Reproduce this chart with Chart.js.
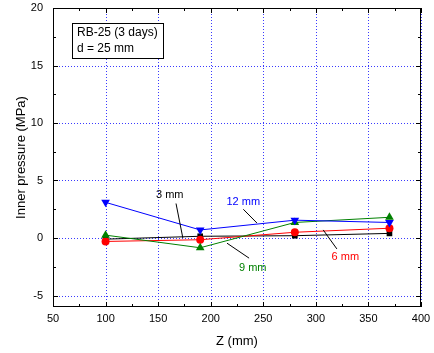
<!DOCTYPE html>
<html>
<head>
<meta charset="utf-8">
<script src="https://cdn.jsdelivr.net/npm/chart.js@4"></script>
<style>
  html, body { margin: 0; padding: 0; background: #fff; }
  #wrap { position: relative; width: 434px; height: 353px; }
</style>
</head>
<body>
<div id="wrap"><canvas id="chart" width="434" height="353"></canvas></div>
<script>
// --- Data ---
const zPositions = [100, 190, 280, 370];
const p3mm = [-0.1, 0.15, 0.2, 0.4];
const p6mm = [-0.3, -0.15, 0.5, 0.85];
const p9mm = [0.25, -0.85, 1.35, 1.8];
const p12mm = [3.1, 0.7, 1.55, 1.35];

const xTicks = [50, 100, 150, 200, 250, 300, 350, 400];
const yTicks = [-5, 0, 5, 10, 15, 20];

const infoLines = ['RB-25 (3 days)', 'd = 25 mm'];

// label text position, leader line start and end (data units)
const labels = [
  { text: '3 mm', color: '#000000', at: [161, 3.7], line: [[167, 3.0], [173.5, 0.0]] },
  { text: '12 mm', color: '#0000ff', at: [231, 3.1], line: [[231, 2.5], [244, 1.3]] },
  { text: '9 mm', color: '#008000', at: [240, -2.6], line: [[236.5, -1.75], [215.5, -0.45]] },
  { text: '6 mm', color: '#ff0000', at: [328, -1.65], line: [[320, -0.95], [307, 0.7]] }
];

const FONT = 'Arial, "Liberation Sans", sans-serif';

function toPoints(ys) {
  return zPositions.map((z, i) => ({ x: z, y: ys[i] }));
}

// dotted blue grid under the data
const dottedGrid = {
  id: 'dottedGrid',
  beforeDatasetsDraw(chart) {
    const { ctx, chartArea: a, scales: { x, y } } = chart;
    ctx.save();
    ctx.strokeStyle = '#3a3aff';
    ctx.lineWidth = 1;
    ctx.setLineDash([1, 2]);
    ctx.beginPath();
    xTicks.forEach(v => {
      const px = Math.round(x.getPixelForValue(v)) + 0.5;
      ctx.moveTo(px, a.top); ctx.lineTo(px, a.bottom);
    });
    yTicks.forEach(v => {
      const py = Math.round(y.getPixelForValue(v)) + 0.5;
      ctx.moveTo(a.left, py); ctx.lineTo(a.right, py);
    });
    ctx.stroke();
    ctx.restore();
  }
};

// draws black frame, inner ticks, annotation labels and the info box
const decorations = {
  id: 'decorations',
  afterDatasetsDraw(chart) {
    const { ctx, chartArea: a, scales: { x, y } } = chart;
    ctx.save();
    ctx.strokeStyle = '#000';
    ctx.lineWidth = 1;
    ctx.strokeRect(a.left + 0.5, a.top + 0.5, a.right - a.left - 1, a.bottom - a.top - 1);

    ctx.beginPath();
    for (let v = 50; v <= 400; v += 25) {
      const px = Math.round(x.getPixelForValue(v)) + 0.5;
      const len = v % 50 === 0 ? 5 : 3;
      ctx.moveTo(px, a.bottom); ctx.lineTo(px, a.bottom - len);
      ctx.moveTo(px, a.top); ctx.lineTo(px, a.top + len);
    }
    for (let v = -5; v <= 20; v += 2.5) {
      const py = Math.round(y.getPixelForValue(v)) + 0.5;
      const len = v % 5 === 0 ? 5 : 3;
      ctx.moveTo(a.left, py); ctx.lineTo(a.left + len, py);
      ctx.moveTo(a.right, py); ctx.lineTo(a.right - len, py);
    }
    ctx.stroke();

    // leader lines and labels
    ctx.font = '11px ' + FONT;
    ctx.textAlign = 'center';
    ctx.textBaseline = 'middle';
    labels.forEach(l => {
      ctx.beginPath();
      ctx.strokeStyle = '#000';
      ctx.moveTo(x.getPixelForValue(l.line[0][0]), y.getPixelForValue(l.line[0][1]));
      ctx.lineTo(x.getPixelForValue(l.line[1][0]), y.getPixelForValue(l.line[1][1]));
      ctx.stroke();
      ctx.fillStyle = l.color;
      ctx.fillText(l.text, x.getPixelForValue(l.at[0]), y.getPixelForValue(l.at[1]));
    });

    // info box
    const bx = 72, by = 23, bw = 91, bh = 35;
    ctx.fillStyle = '#fff';
    ctx.fillRect(bx, by, bw, bh);
    ctx.strokeStyle = '#000';
    ctx.strokeRect(bx + 0.5, by + 0.5, bw, bh);
    ctx.fillStyle = '#000';
    ctx.font = '12px ' + FONT;
    ctx.textAlign = 'left';
    ctx.fillText(infoLines[0], bx + 5, by + 10);
    ctx.fillText(infoLines[1], bx + 5, by + 26);
    ctx.restore();
  }
};

function series(label, data, color, style, rotation, radius, order) {
  return {
    label: label,
    data: toPoints(data),
    showLine: true,
    borderColor: color,
    backgroundColor: color,
    borderWidth: 1,
    pointStyle: style,
    rotation: rotation,
    pointRadius: radius,
    pointBorderWidth: 0,
    order: order
  };
}

new Chart(document.getElementById('chart'), {
  type: 'scatter',
  data: {
    datasets: [
      series('3 mm', p3mm, '#000000', 'rect', 0, 4, 4),
      series('6 mm', p6mm, '#ff0000', 'circle', 0, 4, 3),
      series('9 mm', p9mm, '#008000', 'triangle', 0, 5, 2),
      series('12 mm', p12mm, '#0000ff', 'triangle', 180, 5, 1)
    ]
  },
  plugins: [dottedGrid, decorations],
  options: {
    responsive: false,
    animation: false,
    layout: { padding: { left: 0, right: 13, top: 8, bottom: 0 } },
    plugins: { legend: { display: false }, tooltip: { enabled: false } },
    scales: {
      x: {
        type: 'linear',
        min: 50,
        max: 400,
        afterBuildTicks: s => { s.ticks = xTicks.map(v => ({ value: v })); },
        afterFit: s => { s.height = 46; s.paddingLeft = 0; s.paddingRight = 0; },
        grid: { display: false, drawTicks: false },
        border: { display: false },
        ticks: { color: '#000', padding: 5, font: { family: FONT, size: 11 } },
        title: { display: true, text: 'Z (mm)', color: '#000', padding: { top: 4 }, font: { family: FONT, size: 13 } }
      },
      y: {
        type: 'linear',
        min: -6,
        max: 20,
        afterBuildTicks: s => { s.ticks = yTicks.map(v => ({ value: v })); },
        afterFit: s => { s.width = 53; s.paddingTop = 0; s.paddingBottom = 0; },
        grid: { display: false, drawTicks: false },
        border: { display: false },
        ticks: { color: '#000', padding: 10, font: { family: FONT, size: 11 } },
        title: { display: true, text: 'Inner pressure (MPa)', color: '#000', padding: { top: 14, bottom: 2 }, font: { family: FONT, size: 13 } }
      }
    }
  }
});
</script>
</body>
</html>
